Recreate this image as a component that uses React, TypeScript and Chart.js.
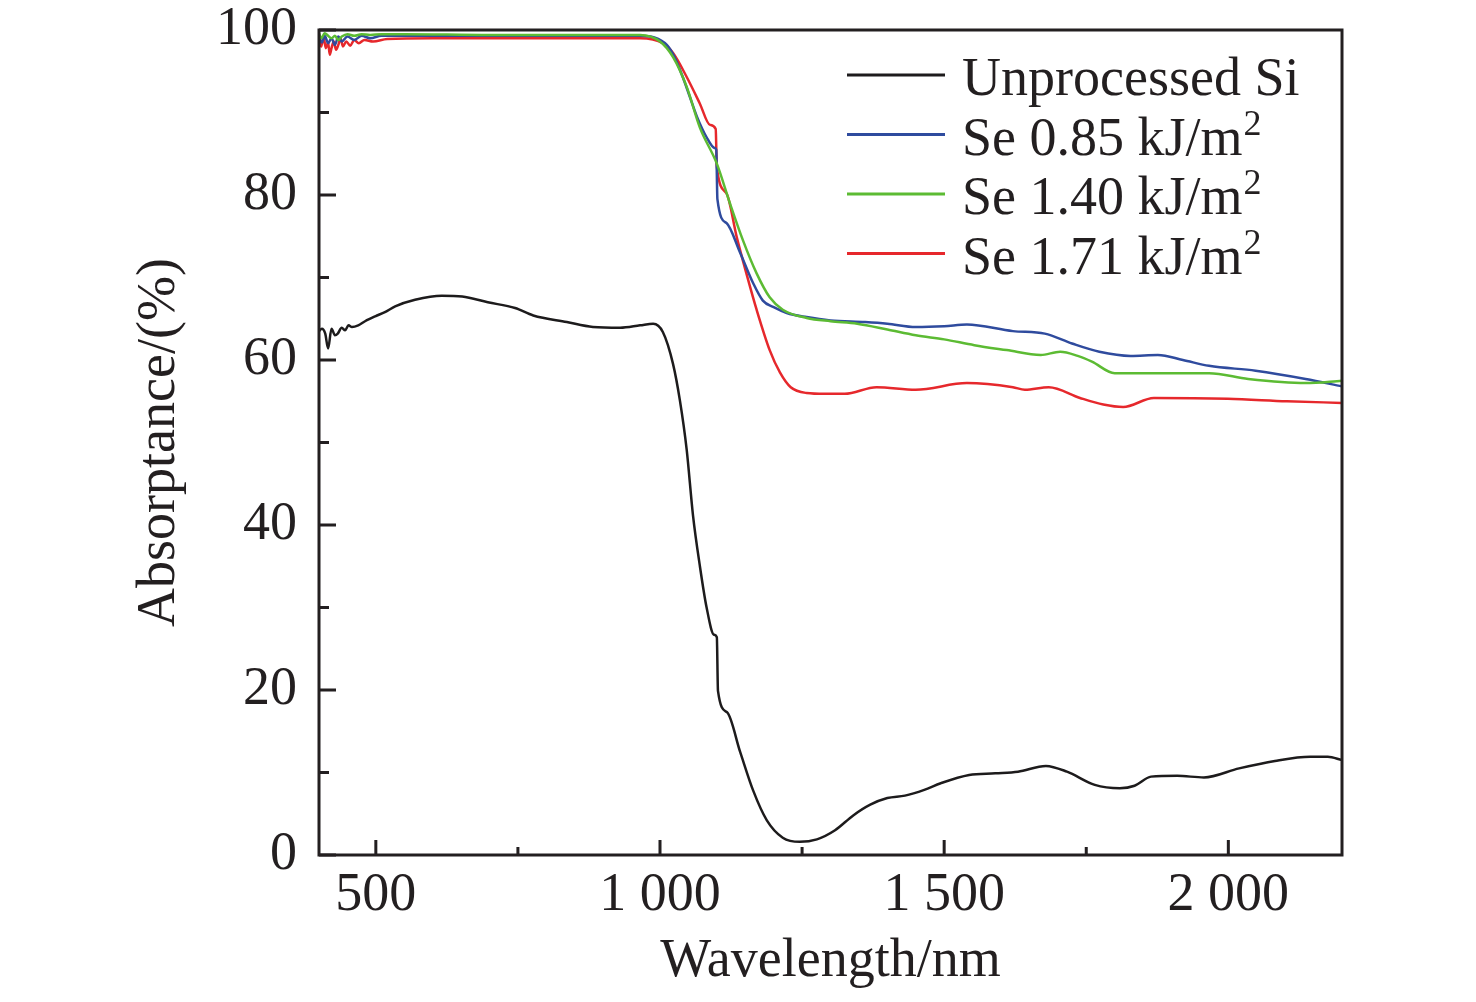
import { useEffect, useRef } from "react";
import { Chart, registerables } from "chart.js";

Chart.register(...registerables);

// ---------- data ----------
const xTickValues = [500, 750, 1000, 1250, 1500, 1750, 2000];
const xLabelValues = [500, 1000, 1500, 2000];
const yTickValues = [0, 10, 20, 30, 40, 50, 60, 70, 80, 90, 100];
const yLabelValues = [0, 20, 40, 60, 80, 100];

const seriesNames = ["Unprocessed Si", "Se 0.85 kJ/m²", "Se 1.40 kJ/m²", "Se 1.71 kJ/m²"];
const seriesColors = ["#1d1b1c", "#2f4b9e", "#5cbb33", "#e6282c"];

const unprocessedWl = [400, 405, 411, 416, 422, 428, 433, 440, 446, 452, 458, 469, 481, 499, 516, 534, 569, 616, 652, 697, 745, 777, 836, 882, 930, 965, 988, 1005, 1023, 1035, 1047, 1058, 1070, 1082, 1095, 1100, 1102, 1118, 1141, 1164, 1188, 1216, 1246, 1276, 1308, 1340, 1370, 1400, 1431, 1465, 1494, 1544, 1590, 1630, 1679, 1716, 1765, 1809, 1835, 1864, 1910, 1957, 2019, 2082, 2144, 2175, 2200];
const unprocessedAbs = [63.5, 63.8, 63.2, 61.4, 63.8, 63.0, 63.2, 63.9, 63.6, 64.2, 64.0, 64.2, 64.7, 65.3, 65.8, 66.5, 67.3, 67.8, 67.7, 67.0, 66.3, 65.4, 64.6, 64.0, 63.9, 64.2, 64.4, 63.4, 59.5, 55.1, 49.1, 41.2, 35.1, 30.0, 26.7, 26.4, 19.9, 17.3, 12.5, 7.8, 4.2, 2.1, 1.6, 1.9, 3.0, 4.8, 6.1, 6.9, 7.2, 7.9, 8.7, 9.7, 9.9, 10.1, 10.8, 10.1, 8.5, 8.1, 8.4, 9.5, 9.6, 9.4, 10.5, 11.4, 11.9, 11.9, 11.5];

const se085Wl = [400, 405, 410, 416, 422, 428, 434, 440, 450, 462, 475, 490, 510, 550, 700, 850, 965, 990, 1012, 1025, 1040, 1052, 1065, 1082, 1096, 1099, 1101, 1117, 1141, 1164, 1181, 1200, 1223, 1258, 1300, 1361, 1400, 1450, 1500, 1540, 1621, 1677, 1725, 1773, 1828, 1876, 1920, 1966, 2048, 2136, 2200];
const se085Abs = [99.0, 98.5, 99.3, 98.4, 99.0, 98.2, 99.2, 98.6, 99.2, 98.8, 99.3, 99.0, 99.3, 99.3, 99.3, 99.3, 99.3, 99.1, 98.2, 96.8, 94.3, 92.0, 89.5, 87.0, 85.7, 85.5, 79.5, 76.6, 73.0, 69.3, 67.2, 66.4, 65.7, 65.2, 64.8, 64.6, 64.4, 64.0, 64.1, 64.3, 63.5, 63.2, 62.0, 61.0, 60.5, 60.6, 60.0, 59.3, 58.7, 57.7, 56.8];

const se140Wl = [400, 404, 410, 416, 422, 428, 434, 440, 450, 462, 475, 490, 510, 550, 700, 850, 965, 1000, 1023, 1047, 1070, 1100, 1123, 1146, 1170, 1193, 1216, 1258, 1300, 1347, 1400, 1450, 1500, 1553, 1610, 1670, 1704, 1735, 1760, 1800, 1850, 1897, 1966, 2035, 2136, 2200];
const se140Abs = [99.6, 99.0, 99.6, 99.3, 99.0, 99.3, 98.8, 99.2, 99.5, 99.3, 99.5, 99.4, 99.5, 99.5, 99.4, 99.4, 99.4, 98.6, 96.7, 93.1, 88.2, 83.8, 79.0, 74.5, 70.5, 67.6, 66.1, 65.1, 64.7, 64.4, 63.7, 63.0, 62.5, 61.8, 61.2, 60.6, 61.0, 60.5, 59.8, 58.4, 58.4, 58.4, 58.4, 57.7, 57.2, 57.5];

const se171Wl = [400, 404, 408, 412, 416, 419, 422, 426, 430, 434, 438, 442, 448, 455, 462, 470, 480, 495, 520, 600, 800, 965, 1005, 1023, 1047, 1070, 1088, 1098, 1100, 1117, 1135, 1152, 1170, 1193, 1211, 1230, 1258, 1290, 1325, 1381, 1450, 1540, 1621, 1642, 1684, 1739, 1780, 1815, 1869, 1999, 2103, 2200];
const se171Abs = [99.0, 98.0, 99.2, 97.8, 98.5, 97.0, 97.8, 98.6, 97.6, 98.2, 99.0, 98.0, 98.6, 98.1, 98.8, 98.4, 98.8, 98.6, 98.9, 99.0, 99.0, 99.0, 98.4, 97.2, 94.3, 91.1, 88.5, 88.0, 83.4, 80.2, 74.9, 70.5, 66.1, 61.2, 58.5, 56.7, 56.0, 55.9, 55.9, 56.7, 56.4, 57.2, 56.7, 56.4, 56.7, 55.4, 54.6, 54.3, 55.4, 55.3, 55.0, 54.8];

const seriesWl = [unprocessedWl, se085Wl, se140Wl, se171Wl];
const seriesAbs = [unprocessedAbs, se085Abs, se140Abs, se171Abs];
const drawOrder = [3, 1, 0, 2]; // lower = drawn on top

// ---------- styling ----------
const FONT_FAMILY = '"Liberation Serif", "Times New Roman", Times, serif';
const INK = "#231f20";
const FONT = { family: FONT_FAMILY, size: 54, lineHeight: 1 };

const fmtThousands = (v: number) =>
  v >= 1000 ? `${Math.floor(v / 1000)} ${String(v % 1000).padStart(3, "0")}` : String(v);

const framePlugin = {
  id: "frameTicks",
  afterDatasetsDraw(chart: any) {
    const { ctx, chartArea, scales } = chart;
    const { left, right, top, bottom } = chartArea;
    ctx.save();
    ctx.strokeStyle = INK;
    ctx.lineWidth = 3;
    ctx.lineCap = "butt";
    ctx.beginPath();
    xTickValues.forEach((v) => {
      const px = scales.x.getPixelForValue(v);
      const len = xLabelValues.includes(v) ? 15 : 8;
      ctx.moveTo(px, bottom);
      ctx.lineTo(px, bottom - len);
    });
    yTickValues.forEach((v) => {
      const py = scales.y.getPixelForValue(v);
      const len = yLabelValues.includes(v) ? 17 : 10;
      ctx.moveTo(left, py);
      ctx.lineTo(left + len, py);
    });
    ctx.stroke();
    ctx.strokeRect(left, top, right - left, bottom - top);
    ctx.restore();
  },
};

const legendPlugin = {
  id: "insideLegend",
  afterDraw(chart: any) {
    const { ctx, chartArea } = chart;
    const x0 = chartArea.right - 495;
    const x1 = chartArea.right - 397;
    const tx = chartArea.right - 380;
    ctx.save();
    ctx.textBaseline = "alphabetic";
    ctx.textAlign = "left";
    seriesNames.forEach((name, i) => {
      const y = chartArea.top + 45 + i * 59.5;
      ctx.strokeStyle = seriesColors[i];
      ctx.lineWidth = 3;
      ctx.beginPath();
      ctx.moveTo(x0, y);
      ctx.lineTo(x1, y);
      ctx.stroke();
      ctx.fillStyle = INK;
      const base = y + 20;
      const hasSup = name.endsWith("²");
      const main = hasSup ? name.slice(0, -1) : name;
      ctx.font = `54px ${FONT_FAMILY}`;
      ctx.fillText(main, tx, base);
      if (hasSup) {
        const w = ctx.measureText(main).width;
        ctx.font = `36px ${FONT_FAMILY}`;
        ctx.fillText("2", tx + w + 1, base - 20);
      }
    });
    ctx.restore();
  },
};

const zeroPadding = (s: any) => {
  s.paddingTop = 0;
  s.paddingBottom = 0;
  s.paddingLeft = 0;
  s.paddingRight = 0;
};

export default function App() {
  const canvasRef = useRef<HTMLCanvasElement | null>(null);

  useEffect(() => {
    if (!canvasRef.current) return;
    const datasets = seriesNames.map((name, i) => ({
      label: name,
      data: seriesWl[i].map((x, j) => ({ x, y: seriesAbs[i][j] })),
      borderColor: seriesColors[i],
      backgroundColor: seriesColors[i],
      borderWidth: 2.5,
      pointRadius: 0,
      cubicInterpolationMode: "monotone" as const,
      order: drawOrder[i],
    }));

    const chart = new Chart(canvasRef.current, {
      type: "line",
      data: { datasets },
      options: {
        responsive: false,
        animation: false,
        layout: { padding: { left: 0, right: 134, top: 30, bottom: 0 } },
        plugins: { legend: { display: false }, tooltip: { enabled: false } },
        scales: {
          x: {
            type: "linear",
            min: 400,
            max: 2200,
            afterBuildTicks: (s: any) => {
              s.ticks = xTickValues.map((v) => ({ value: v }));
            },
            afterFit: (s: any) => {
              s.height = 147;
              zeroPadding(s);
            },
            ticks: {
              autoSkip: false,
              maxRotation: 0,
              padding: 14,
              color: INK,
              font: FONT,
              callback: (v: any) => (xLabelValues.includes(Number(v)) ? fmtThousands(Number(v)) : ""),
            },
            grid: { display: false, drawTicks: false },
            border: { display: false },
            title: {
              display: true,
              text: "Wavelength/nm",
              color: INK,
              font: FONT,
              padding: { top: 0, bottom: 13 },
            },
          },
          y: {
            type: "linear",
            min: 0,
            max: 100,
            afterBuildTicks: (s: any) => {
              s.ticks = yTickValues.map((v) => ({ value: v }));
            },
            afterFit: (s: any) => {
              s.width = 319;
              zeroPadding(s);
            },
            ticks: {
              autoSkip: false,
              padding: 22,
              color: INK,
              font: FONT,
              callback: (v: any) => (yLabelValues.includes(Number(v)) ? String(v) : ""),
            },
            grid: { display: false, drawTicks: false },
            border: { display: false },
            title: {
              display: true,
              text: "Absorptance/(%)",
              color: INK,
              font: FONT,
              padding: { top: 133, bottom: 0 },
            },
          },
        },
      },
      plugins: [framePlugin, legendPlugin],
    });
    return () => chart.destroy();
  }, []);

  return (
    <div style={{ position: "absolute", left: 0, top: 0, width: 1476, height: 1002, background: "#ffffff" }}>
      <canvas ref={canvasRef} width={1476} height={1002} />
    </div>
  );
}
